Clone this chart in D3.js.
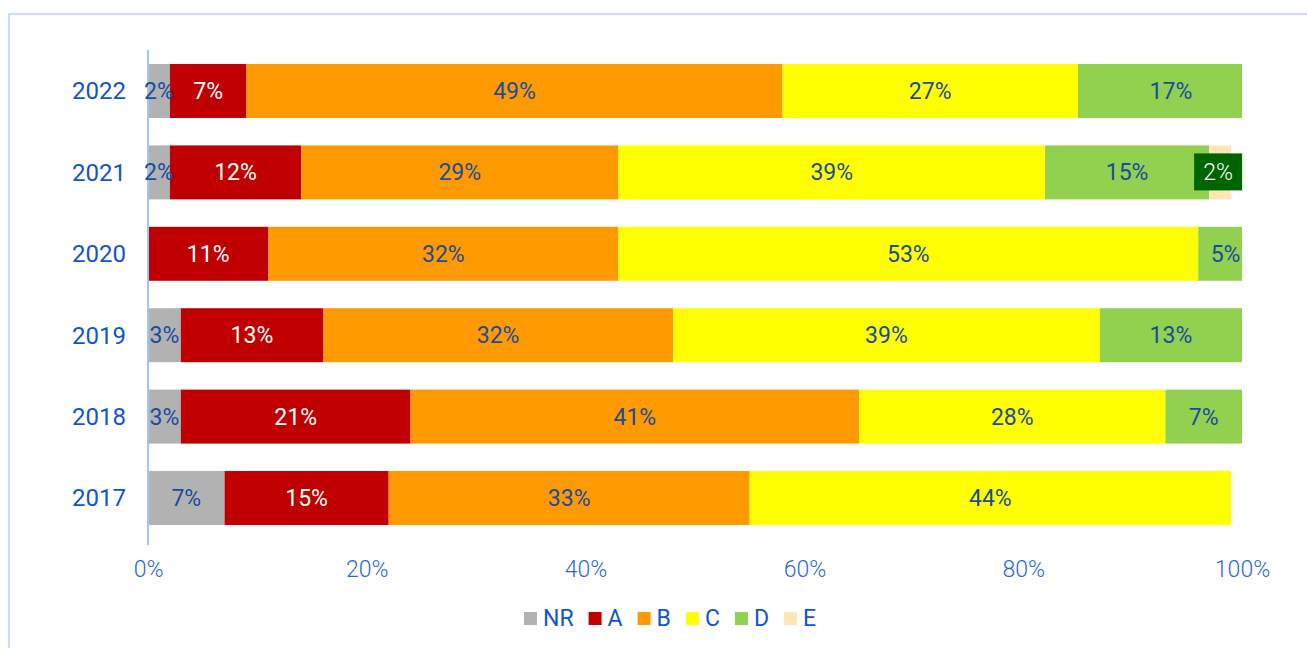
<!DOCTYPE html>
<html>
<head>
<meta charset="utf-8">
<script src="https://cdn.jsdelivr.net/npm/d3@7"></script>
<style>
  html, body { margin: 0; padding: 0; background: #ffffff; }
  svg { display: block; font-family: Roboto, "Noto Sans", sans-serif; }
</style>
</head>
<body>
<svg id="chart" width="1307" height="648"></svg>
<script>
// Rating distribution per year (percent of total)
const years = ["2022", "2021", "2020", "2019", "2018", "2017"];
const seriesNames = ["NR", "A", "B", "C", "D", "E"];
const NR = [2, 2, 0, 3, 3, 7];
const A  = [7, 12, 11, 13, 21, 15];
const B  = [49, 29, 32, 32, 41, 33];
const C  = [27, 39, 53, 39, 28, 44];
const D  = [17, 15, 5, 13, 7, 0];
const E  = [0, 2, 0, 0, 0, 0];
const xTicks = [0, 20, 40, 60, 80, 100];

const seriesValues = [NR, A, B, C, D, E];
const colors = ["#b2b2b2", "#c00000", "#ff9900", "#ffff00", "#92d050", "#ffe6b3"];
const labelColors = ["#1a4c9e", "#ffffff", "#1a4c9e", "#1a4c9e", "#1a4c9e", "#ffffff"];

const rows = years.map((y, i) => {
  const r = { year: y };
  seriesNames.forEach((s, k) => { r[s] = seriesValues[k][i]; });
  return r;
});

const svg = d3.select("#chart");

// outer frame
svg.append("rect")
  .attr("x", 9).attr("y", 14)
  .attr("width", 1400).attr("height", 700)
  .attr("fill", "none")
  .attr("stroke", "#c9dbfa")
  .attr("stroke-width", 2);

const x = d3.scaleLinear().domain([0, 100]).range([148, 1242]);
const y = d3.scaleBand().domain(years).range([50.3, 538.7])
  .paddingInner(0.337).paddingOuter(0.1685);

const stacked = d3.stack().keys(seriesNames)(rows);

// bars are clipped at the 100% edge of the plot area
svg.append("clipPath").attr("id", "plotClip")
  .append("rect")
  .attr("x", x(0)).attr("y", 0)
  .attr("width", x(100) - x(0)).attr("height", 648);

const barG = svg.append("g").attr("clip-path", "url(#plotClip)");
stacked.forEach((layer, k) => {
  barG.selectAll(null)
    .data(layer.filter(d => d[1] - d[0] > 0))
    .join("rect")
    .attr("x", d => x(d[0]))
    .attr("y", d => y(d.data.year))
    .attr("width", d => x(d[1]) - x(d[0]))
    .attr("height", y.bandwidth())
    .attr("fill", colors[k]);
});

// vertical category axis line
svg.append("line")
  .attr("x1", x(0)).attr("x2", x(0))
  .attr("y1", 50).attr("y2", 545)
  .attr("stroke", "#9fc5f8")
  .attr("stroke-width", 2);

// segment value labels
const labelG = svg.append("g")
  .attr("font-size", 23)
  .attr("text-anchor", "middle");
stacked.forEach((layer, k) => {
  layer.filter(d => d[1] - d[0] > 0).forEach(d => {
    const cx = x((d[0] + d[1]) / 2);
    const cy = y(d.data.year) + y.bandwidth() / 2;
    const txt = (d[1] - d[0]) + "%";
    if (seriesNames[k] === "E") {
      labelG.append("rect")
        .attr("x", cx - 26).attr("y", cy - 19)
        .attr("width", 48).attr("height", 37)
        .attr("fill", "#006400");
    }
    labelG.append("text")
      .attr("x", seriesNames[k] === "E" ? cx - 2 : cx)
      .attr("y", cy)
      .attr("dy", "0.35em")
      .attr("fill", labelColors[k])
      .attr("font-weight", seriesNames[k] === "E" ? 300 : 400)
      .text(txt);
  });
});

// year labels
svg.append("g")
  .selectAll("text")
  .data(years)
  .join("text")
  .attr("x", 126)
  .attr("y", d => y(d) + y.bandwidth() / 2)
  .attr("dy", "0.35em")
  .attr("text-anchor", "end")
  .attr("font-size", 24)
  .attr("fill", "#1155cc")
  .text(d => d);

// percentage axis
const xAxis = d3.axisBottom(x)
  .tickValues(xTicks)
  .tickSize(0)
  .tickPadding(0)
  .tickFormat(d => d + "%");
const axG = svg.append("g")
  .attr("transform", "translate(0,561)")
  .call(xAxis);
axG.select(".domain").remove();
axG.selectAll("text")
  .attr("font-family", "Roboto, sans-serif")
  .attr("font-size", 23)
  .attr("font-weight", 300)
  .attr("fill", "#2a6ad6")
  .attr("dy", "0.71em");

// legend
const legend = svg.append("g");
let lx = 524;
seriesNames.forEach((s, k) => {
  legend.append("rect")
    .attr("x", lx).attr("y", 612)
    .attr("width", 13).attr("height", 13)
    .attr("fill", colors[k]);
  const t = legend.append("text")
    .attr("x", lx + 19).attr("y", 626)
    .attr("font-size", 23)
    .attr("fill", "#1155cc")
    .text(s);
  lx += 19 + t.node().getComputedTextLength() + 15;
});
</script>
</body>
</html>
